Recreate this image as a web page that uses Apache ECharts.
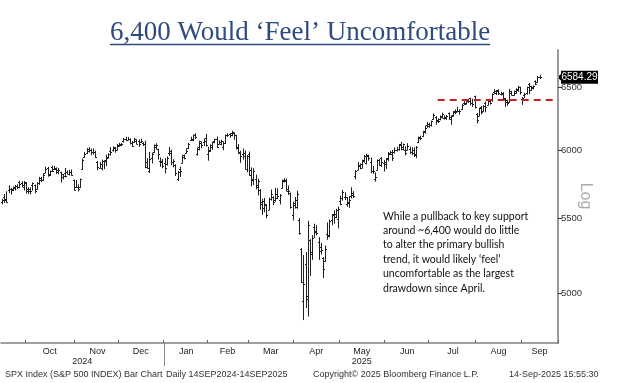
<!DOCTYPE html>
<html><head><meta charset="utf-8">
<script src="https://cdn.jsdelivr.net/npm/echarts@6/dist/echarts.min.js"></script>
<style>html,body{margin:0;padding:0;background:#fff}#c{width:620px;height:383px}</style>
</head><body><div id="c"></div>
<script>
// ---- DATA: SPX daily bars [day, open, high, low, close] ----
const sep24 = [[16,5615,5636,5604,5633],[17,5655,5671,5614,5634],[18,5641,5690,5615,5618],[19,5703,5734,5685,5713],[20,5709,5715,5674,5702],[23,5711,5725,5699,5718],[24,5727,5736,5703,5732],[25,5734,5741,5713,5722],[26,5762,5767,5721,5745],[27,5755,5764,5727,5738],[30,5727,5765,5703,5762]];
const oct24 = [[1,5757,5757,5681,5709],[2,5698,5720,5678,5709],[3,5698,5719,5675,5699],[4,5737,5754,5702,5751],[7,5737,5739,5683,5696],[8,5714,5757,5707,5751],[9,5751,5796,5745,5792],[10,5778,5796,5764,5780],[11,5776,5822,5775,5815],[14,5829,5871,5829,5859],[15,5866,5870,5804,5815],[16,5817,5843,5809,5843],[17,5875,5879,5840,5841],[18,5859,5878,5854,5864],[21,5857,5866,5825,5853],[22,5832,5863,5822,5851],[23,5834,5835,5762,5797],[24,5817,5817,5784,5809],[25,5826,5862,5799,5808],[28,5833,5843,5823,5823],[29,5820,5848,5813,5832],[30,5835,5851,5812,5813],[31,5775,5775,5703,5705]];
const nov24 = [[1,5723,5773,5723,5728],[4,5725,5741,5696,5712],[5,5722,5783,5722,5782],[6,5856,5933,5856,5929],[7,5947,5983,5947,5973],[8,5976,6012,5976,5996],[11,6009,6018,5986,6001],[12,6003,6008,5965,5984],[13,5985,6009,5971,5985],[14,5989,5993,5944,5949],[15,5912,5915,5853,5871],[18,5867,5908,5866,5894],[19,5862,5925,5850,5917],[20,5917,5920,5860,5917],[21,5924,5963,5883,5949],[22,5944,5973,5944,5969],[25,5993,6020,5963,5987],[26,6000,6025,5993,6021],[27,6014,6021,5985,5999],[29,6003,6044,6003,6032]];
const dec24 = [[2,6041,6053,6030,6047],[3,6042,6052,6034,6050],[4,6069,6090,6062,6087],[5,6089,6099,6072,6075],[6,6081,6099,6079,6090],[9,6084,6088,6048,6053],[10,6057,6066,6028,6034],[11,6060,6092,6060,6085],[12,6074,6080,6051,6051],[13,6068,6079,6029,6051],[16,6063,6085,6060,6074],[17,6053,6058,6036,6050],[18,6047,6070,5868,5872],[19,5913,5935,5866,5867],[20,5843,5982,5832,5930],[23,5940,5978,5903,5974],[24,5985,6040,5982,6040],[26,6025,6049,6008,6037],[27,6006,6007,5932,5971],[30,5921,5941,5879,5907],[31,5920,5929,5868,5882]];
const jan25 = [[2,5903,5936,5829,5869],[3,5892,5949,5888,5942],[6,5982,6021,5960,5975],[7,5994,6000,5890,5909],[8,5910,5927,5874,5918],[10,5890,5890,5809,5827],[13,5782,5839,5773,5836],[14,5860,5872,5803,5843],[15,5906,5960,5906,5950],[16,5960,5964,5934,5937],[17,5981,6011,5978,5997],[21,6015,6052,6012,6049],[22,6078,6100,6076,6086],[23,6076,6118,6074,6119],[24,6121,6128,6089,6101],[27,5970,6017,5962,6012],[28,6026,6069,6003,6068],[29,6058,6062,6018,6039],[30,6062,6087,6036,6071],[31,6097,6121,6031,6041]];
const feb25 = [[3,5970,6022,5924,5994],[4,5998,6042,5990,6038],[5,6021,6062,6007,6061],[6,6072,6085,6057,6084],[7,6083,6101,6020,6026],[10,6050,6073,6049,6066],[11,6050,6076,6042,6069],[12,6026,6064,6004,6052],[13,6058,6117,6051,6115],[14,6115,6127,6107,6115],[18,6122,6129,6100,6129],[19,6117,6147,6111,6144],[20,6134,6134,6084,6118],[21,6115,6115,6009,6013],[24,6027,6043,5977,5983],[25,5982,5992,5908,5955],[26,5971,6009,5932,5956],[27,5981,5994,5858,5861],[28,5857,5959,5837,5955]];
const mar25 = [[3,5968,5986,5810,5850],[4,5812,5866,5733,5778],[5,5782,5860,5743,5843],[6,5785,5812,5711,5739],[7,5726,5783,5667,5770],[10,5706,5706,5564,5615],[11,5603,5636,5529,5572],[12,5624,5642,5547,5599],[13,5594,5598,5505,5522],[14,5563,5645,5563,5639],[17,5635,5703,5631,5675],[18,5654,5654,5598,5615],[19,5632,5715,5622,5675],[20,5646,5712,5641,5663],[21,5631,5670,5603,5668],[24,5718,5775,5718,5768],[25,5776,5786,5761,5777],[26,5771,5783,5695,5712],[27,5696,5732,5670,5693],[28,5679,5681,5573,5581],[31,5527,5615,5489,5612]];
const apr25 = [[1,5598,5650,5573,5633],[2,5580,5695,5572,5671],[3,5492,5500,5391,5397],[4,5292,5292,5070,5074],[7,4953,5246,4835,5062],[8,5193,5267,4910,4983],[9,4965,5481,4857,5457],[10,5353,5353,5115,5268],[11,5255,5381,5221,5363],[14,5441,5460,5368,5406],[15,5411,5450,5387,5397],[16,5335,5367,5221,5276],[17,5305,5328,5256,5283],[21,5232,5233,5101,5158],[22,5208,5310,5208,5288],[23,5395,5469,5356,5376],[24,5382,5489,5372,5485],[25,5489,5528,5456,5525],[28,5529,5553,5468,5529],[29,5508,5565,5505,5561],[30,5499,5581,5434,5569]];
const may25 = [[1,5625,5658,5597,5604],[2,5646,5700,5629,5687],[5,5655,5683,5634,5650],[6,5605,5649,5587,5607],[7,5615,5655,5579,5631],[8,5663,5720,5646,5664],[9,5679,5691,5650,5660],[12,5807,5845,5784,5844],[13,5854,5906,5853,5886],[14,5883,5896,5860,5892],[15,5869,5924,5868,5917],[16,5929,5959,5909,5958],[19,5902,5968,5895,5964],[20,5953,5962,5923,5941],[21,5910,5939,5830,5845],[22,5842,5878,5825,5842],[23,5781,5829,5768,5802],[27,5854,5925,5854,5922],[28,5925,5930,5886,5889],[29,5939,5944,5877,5913],[30,5903,5922,5843,5912]];
const jun25 = [[2,5897,5937,5862,5936],[3,5939,5982,5919,5970],[4,5978,5990,5967,5971],[5,5985,5999,5922,5939],[6,5987,6017,5978,6000],[9,6005,6022,5994,6006],[10,6009,6044,5999,6038],[11,6050,6060,6003,6022],[12,6010,6046,6003,6045],[13,6000,6026,5964,5977],[16,6005,6050,6005,6033],[17,6012,6024,5974,5983],[18,5987,6019,5966,5981],[20,6005,6018,5952,5967],[23,5970,6028,5943,6025],[24,6061,6101,6059,6092],[25,6105,6108,6080,6092],[26,6112,6146,6108,6141],[27,6151,6187,6132,6173],[30,6193,6215,6177,6205]];
const jul25 = [[1,6187,6210,6178,6198],[2,6193,6227,6188,6227],[3,6247,6284,6241,6279],[7,6259,6262,6202,6230],[8,6233,6243,6216,6226],[9,6245,6268,6236,6263],[10,6265,6290,6251,6280],[11,6255,6269,6243,6260],[14,6255,6272,6241,6269],[15,6288,6292,6243,6244],[16,6260,6268,6202,6264],[17,6272,6302,6266,6297],[18,6306,6316,6286,6297],[21,6304,6336,6302,6306],[22,6307,6316,6281,6309],[23,6326,6360,6318,6359],[24,6369,6382,6360,6363],[25,6370,6390,6363,6389],[28,6397,6402,6377,6390],[29,6409,6410,6358,6371],[30,6374,6402,6345,6362],[31,6427,6428,6332,6339]];
const aug25 = [[1,6287,6288,6213,6238],[4,6271,6330,6271,6330],[5,6336,6344,6285,6299],[6,6309,6350,6307,6345],[7,6375,6379,6301,6340],[8,6359,6395,6357,6389],[11,6389,6401,6363,6374],[12,6398,6446,6385,6446],[13,6458,6481,6447,6466],[14,6454,6474,6441,6469],[15,6478,6481,6441,6450],[18,6445,6459,6437,6449],[19,6453,6457,6400,6412],[20,6407,6408,6344,6396],[21,6384,6394,6353,6370],[22,6380,6483,6379,6467],[25,6457,6466,6438,6440],[26,6441,6468,6436,6466],[27,6455,6488,6453,6481],[28,6489,6509,6467,6502],[29,6499,6500,6445,6460]];
const sep25 = [[2,6401,6416,6361,6416],[3,6441,6451,6416,6448],[4,6457,6502,6445,6502],[5,6527,6533,6447,6482],[8,6509,6509,6476,6495],[9,6506,6513,6488,6512],[10,6550,6554,6522,6532],[11,6545,6592,6541,6587],[12,6590,6601,6575,6584.29]];

const monthBlocks = [['2024-09',sep24],['2024-10',oct24],['2024-11',nov24],['2024-12',dec24],['2025-01',jan25],['2025-02',feb25],['2025-03',mar25],['2025-04',apr25],['2025-05',may25],['2025-06',jun25],['2025-07',jul25],['2025-08',aug25],['2025-09',sep25]];
const monthNames = ['Jan','Feb','Mar','Apr','May','Jun','Jul','Aug','Sep','Oct','Nov','Dec'];
const yTicks = [5000, 5500, 6000, 6500];
const supportLevel = 6400;
const supportStart = '2025-07-08';
const padDays = 8;
const titleText = '6,400 Would \u2018Feel\u2019 Uncomfortable';
const noteLines = ['While a pullback to key support','around ~6,400 would do little','to alter the primary bullish','trend, it would likely \u2018feel\u2019','uncomfortable as the largest','drawdown since April.'];
const footer = ['SPX Index (S&P 500 INDEX) Bar Chart','Daily 14SEP2024-14SEP2025','Copyright\u00a9 2025 Bloomberg Finance L.P.','14-Sep-2025 15:55:30'];

// ---- build ----
const dates = [], bars = [];
monthBlocks.forEach(([ym, rows]) => rows.forEach(r => {
  dates.push(ym + '-' + String(r[0]).padStart(2, '0'));
  bars.push([bars.length, r[1], r[2], r[3], r[4]]);
}));
const cats = dates.concat(Array.from({length: padDays}, (_, i) => 'pad' + i));
const monthStarts = [];
dates.forEach((d, i) => { if (i === 0 || d.slice(0, 7) !== dates[i - 1].slice(0, 7)) monthStarts.push(i); });
const tickIdx = new Set(monthStarts.slice(1));
const monthLabel = {};
for (let k = 1; k < monthStarts.length; k++) {
  const s = monthStarts[k];
  const e = k + 1 < monthStarts.length ? monthStarts[k + 1] - 1 : cats.length - 1;
  monthLabel[Math.round((s + e) / 2)] = monthNames[+dates[s].slice(5, 7) - 1];
}
const yearStarts = [];
dates.forEach((d, i) => { if (i === 0 || d.slice(0, 4) !== dates[i - 1].slice(0, 4)) yearStarts.push(i); });
const yearLabel = {};
yearStarts.forEach((s, k) => {
  const e = k + 1 < yearStarts.length ? yearStarts[k + 1] - 1 : cats.length - 1;
  yearLabel[Math.round((s + e) / 2)] = dates[s].slice(0, 4);
});
const lastClose = bars[bars.length - 1][4];

const FONT = "'Liberation Sans', Arial, sans-serif";
const chart = echarts.init(document.getElementById('c'), null, {renderer: 'canvas'});

const measure = (txt, font) => { const c = document.createElement('canvas').getContext('2d'); c.font = font; return c.measureText(txt).width; };
const titleFont = "27px 'Liberation Serif', serif";
const tw = measure(titleText, titleFont);
const tcx = 300;

chart.setOption({
  animation: false,
  backgroundColor: '#fff',
  grid: {left: 1, right: 62, top: 50, bottom: 40, containLabel: false, outerBoundsMode: 'none'},
  xAxis: [{
    type: 'category', data: cats, boundaryGap: true,
    axisLine: {show: true, lineStyle: {color: '#808080', width: 1.5}},
    axisTick: {show: true, inside: true, length: 3, interval: (i) => tickIdx.has(i), lineStyle: {color: '#666'}},
    axisLabel: {show: true, interval: (i) => (i in monthLabel), formatter: (v, i) => monthLabel[i] || '', color: '#222', fontSize: 9, fontFamily: FONT, margin: 4},
    splitLine: {show: false}
  }, {
    type: 'category', data: cats, boundaryGap: true, position: 'bottom',
    axisLine: {show: false}, axisTick: {show: false},
    axisLabel: {show: true, interval: (i) => (i in yearLabel), formatter: (v, i) => yearLabel[i] || '', color: '#222', fontSize: 9, fontFamily: FONT, margin: 14},
    splitLine: {show: false}
  }],
  yAxis: {
    type: 'log', logBase: 10, position: 'right', min: 4693, max: 6817,
    axisLine: {show: true, lineStyle: {color: '#9a9a9a', width: 2}},
    axisTick: {show: true, length: 4, customValues: yTicks, lineStyle: {color: '#333'}},
    axisLabel: {show: true, customValues: yTicks, formatter: (v) => String(Math.round(v)), color: '#333', fontSize: 9.5, fontFamily: FONT, margin: 3},
    splitLine: {show: false}
  },
  series: [{
    type: 'custom',
    xAxisIndex: 0, yAxisIndex: 0,
    encode: {x: 0, y: [1, 2, 3, 4]},
    data: bars,
    renderItem: (params, api) => {
      const i = api.value(0);
      const pO = api.coord([i, api.value(1)]);
      const pH = api.coord([i, api.value(2)]);
      const pL = api.coord([i, api.value(3)]);
      const pC = api.coord([i, api.value(4)]);
      const x = Math.round(pO[0]) + 0.5;
      const st = {stroke: '#1e1e1e', lineWidth: 1};
      const yo = Math.round(pO[1]) + 0.5, yc = Math.round(pC[1]) + 0.5;
      return {type: 'group', children: [
        {type: 'line', shape: {x1: x, y1: pH[1] - 0.5, x2: x, y2: pL[1] + 0.5}, style: st},
        {type: 'line', shape: {x1: x - 1.5, y1: yo, x2: x, y2: yo}, style: st},
        {type: 'line', shape: {x1: x, y1: yc, x2: x + 1.5, y2: yc}, style: st}
      ]};
    },
    markLine: {
      silent: true, symbol: ['none', 'none'], label: {show: false}, z: 10,
      lineStyle: {color: '#c8201e', type: [7, 5], width: 1.8},
      data: [[{coord: [supportStart, supportLevel]}, {coord: [cats[cats.length - 1], supportLevel]}]]
    }
  }],
  graphic: [
    {type: 'text', id: 'title', x: tcx, y: 33, style: {text: titleText, font: titleFont, fill: '#2f4a7c', textAlign: 'center', textVerticalAlign: 'middle'}},
    {type: 'line', id: 'titleU', shape: {x1: tcx - tw / 2, y1: 44.5, x2: tcx + tw / 2, y2: 44.5}, style: {stroke: '#2f4a7c', lineWidth: 1.5}},
    {type: 'text', id: 'note', x: 383, y: 209, style: {text: noteLines.join('\n'), font: "10.5px Lato, 'Open Sans', sans-serif", lineHeight: 14.4, fill: '#111', textVerticalAlign: 'top'}},
    {type: 'text', id: 'log', x: 585, y: 196, rotation: -Math.PI / 2, style: {text: 'Log', font: "16px 'Liberation Sans', sans-serif", fill: '#ababab', textAlign: 'center', textVerticalAlign: 'middle'}},
    {type: 'text', id: 'f0', x: 5, y: 375, style: {text: footer[0], font: "9px 'Liberation Sans', sans-serif", fill: '#333', textVerticalAlign: 'middle'}},
    {type: 'text', id: 'f1', x: 166, y: 375, style: {text: footer[1], font: "9px 'Liberation Sans', sans-serif", fill: '#333', textVerticalAlign: 'middle'}},
    {type: 'text', id: 'f2', x: 313, y: 375, style: {text: footer[2], font: "9px 'Liberation Sans', sans-serif", fill: '#333', textVerticalAlign: 'middle'}},
    {type: 'text', id: 'f3', x: 509, y: 375, style: {text: footer[3], font: "9px 'Liberation Sans', sans-serif", fill: '#333', textVerticalAlign: 'middle'}}
  ]
});

// last-price tag and year separator placed through the axes
const yLast = chart.convertToPixel({yAxisIndex: 0}, lastClose);
const xSepC = chart.convertToPixel({xAxisIndex: 0}, yearStarts[1]);
const xPrev = chart.convertToPixel({xAxisIndex: 0}, yearStarts[1] - 1);
const xSep = Math.round((xSepC + xPrev) / 2) + 0.5;
const axisY = 383 - 40;
chart.setOption({graphic: [
  {type: 'polygon', id: 'tagArrow', shape: {points: [[557, yLast], [562, yLast - 4], [562, yLast + 4]]}, style: {fill: '#000'}},
  {type: 'rect', id: 'tagBox', shape: {x: 561, y: yLast - 6.5, width: 37, height: 13}, style: {fill: '#000'}},
  {type: 'text', id: 'tagText', x: 579.5, y: yLast, style: {text: lastClose.toFixed(2), font: "10px 'Liberation Sans', sans-serif", fill: '#fff', textAlign: 'center', textVerticalAlign: 'middle'}},
  {type: 'line', id: 'yearSep', shape: {x1: xSep, y1: axisY, x2: xSep, y2: axisY + 23}, style: {stroke: '#8a8a8a', lineWidth: 1}}
]});
</script></body></html>
